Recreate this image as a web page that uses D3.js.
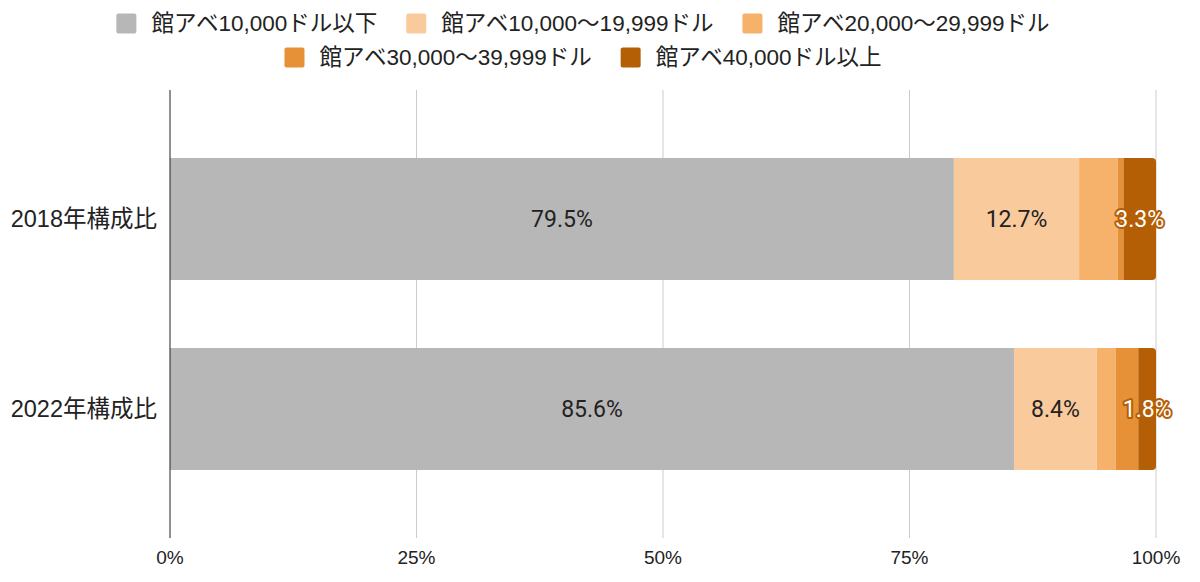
<!DOCTYPE html>
<html><head><meta charset="utf-8">
<script src="https://cdn.jsdelivr.net/npm/d3@7"></script>
<style>
body{margin:0;background:#fff;}
text{font-family:"Liberation Sans","Noto Sans CJK JP",sans-serif;}
</style></head>
<body><svg id="c" width="1200" height="582"></svg>
<script>
const categories = ["2018年構成比", "2022年構成比"];
const seriesNames = ["館アベ10,000ドル以下", "館アベ10,000〜19,999ドル", "館アベ20,000〜29,999ドル", "館アベ30,000〜39,999ドル", "館アベ40,000ドル以上"];
const seriesColors = ["#b7b7b7", "#f9cb9c", "#f6b26b", "#e69138", "#b45f06"];
const values2018 = [79.5, 12.7, 3.9, 0.6, 3.3];
const values2022 = [85.6, 8.4, 1.9, 2.3, 1.8];
const showLabel = [true, true, false, false, true];
const tickValues = [0, 25, 50, 75, 100];

const values = [values2018, values2022];
const svg = d3.select("#c");
const x = d3.scaleLinear().domain([0, 100]).range([170, 1156]);
const y = d3.scaleBand().domain(categories).range([90, 538]).paddingInner(0.358).paddingOuter(0.358);

// gridlines
svg.append("g").selectAll("line").data(tickValues.filter(t => t > 0)).join("line")
  .attr("x1", d => x(d)).attr("x2", d => x(d)).attr("y1", 90).attr("y2", 538)
  .attr("stroke", "#cccccc").attr("stroke-width", 1);

// tick labels
svg.append("g").selectAll("text").data(tickValues).join("text")
  .attr("x", d => x(d)).attr("y", 557).attr("dy", "0.35em").attr("text-anchor", "middle")
  .attr("font-size", 19).attr("fill", "#222").text(d => d + "%");

const defs = svg.append("defs");
categories.forEach((cat, i) => {
  defs.append("clipPath").attr("id", "clip" + i).append("rect")
    .attr("x", x(0) - 5).attr("y", y(cat)).attr("width", x(100) - x(0) + 5)
    .attr("height", y.bandwidth()).attr("rx", 4);
  const g = svg.append("g").attr("clip-path", `url(#clip${i})`);
  let acc = 0;
  const segs = values[i].map((v, k) => { const s = {k, v, x0: acc, x1: acc + v}; acc += v; return s; });
  g.selectAll("rect").data(segs).join("rect")
    .attr("x", d => x(d.x0)).attr("y", y(cat))
    .attr("width", d => x(d.x1) - x(d.x0)).attr("height", y.bandwidth())
    .attr("fill", d => seriesColors[d.k]);
  const lg = svg.append("g");
  segs.filter(d => showLabel[d.k]).forEach(d => {
    const t = lg.append("text")
      .attr("x", (x(d.x0) + x(Math.min(d.x1, 100))) / 2)
      .attr("y", y(cat) + y.bandwidth() / 2).attr("dy", "0.35em")
      .attr("text-anchor", "middle").attr("font-size", 23)
      .style("font-family", "Roboto, sans-serif").text(d.v.toFixed(1) + "%");
    if (d.k === 4) {
      t.attr("fill", "#fff").attr("stroke", seriesColors[4]).attr("stroke-width", 4)
        .attr("paint-order", "stroke").attr("stroke-linejoin", "round");
    } else {
      t.attr("fill", "#222");
    }
  });
  svg.append("text").attr("x", 157).attr("y", y(cat) + y.bandwidth() / 2).attr("dy", "0.35em")
    .attr("text-anchor", "end").attr("font-size", 23.5).attr("fill", "#222").text(cat);
});

// baseline
svg.append("line").attr("x1", x(0)).attr("x2", x(0)).attr("y1", 90).attr("y2", 538)
  .attr("stroke", "#222").attr("stroke-width", 1);

// legend
const legendRows = [[0, 1, 2], [3, 4]];
const legendY = [23.5, 57.5];
legendRows.forEach((row, r) => {
  const g = svg.append("g");
  let cx = 0;
  row.forEach(k => {
    const item = g.append("g").attr("transform", `translate(${cx},0)`);
    item.append("rect").attr("x", 0).attr("y", legendY[r] - 10).attr("width", 20).attr("height", 20)
      .attr("rx", 2).attr("fill", seriesColors[k]);
    const t = item.append("text").attr("x", 35).attr("y", legendY[r]).attr("dy", "0.35em")
      .attr("font-size", 22.5).attr("fill", "#222").text(seriesNames[k]);
    const w = 35 + t.node().getComputedTextLength();
    cx += w + 29;
  });
  const total = cx - 29;
  g.attr("transform", `translate(${583 - total / 2},0)`);
});
</script></body></html>
